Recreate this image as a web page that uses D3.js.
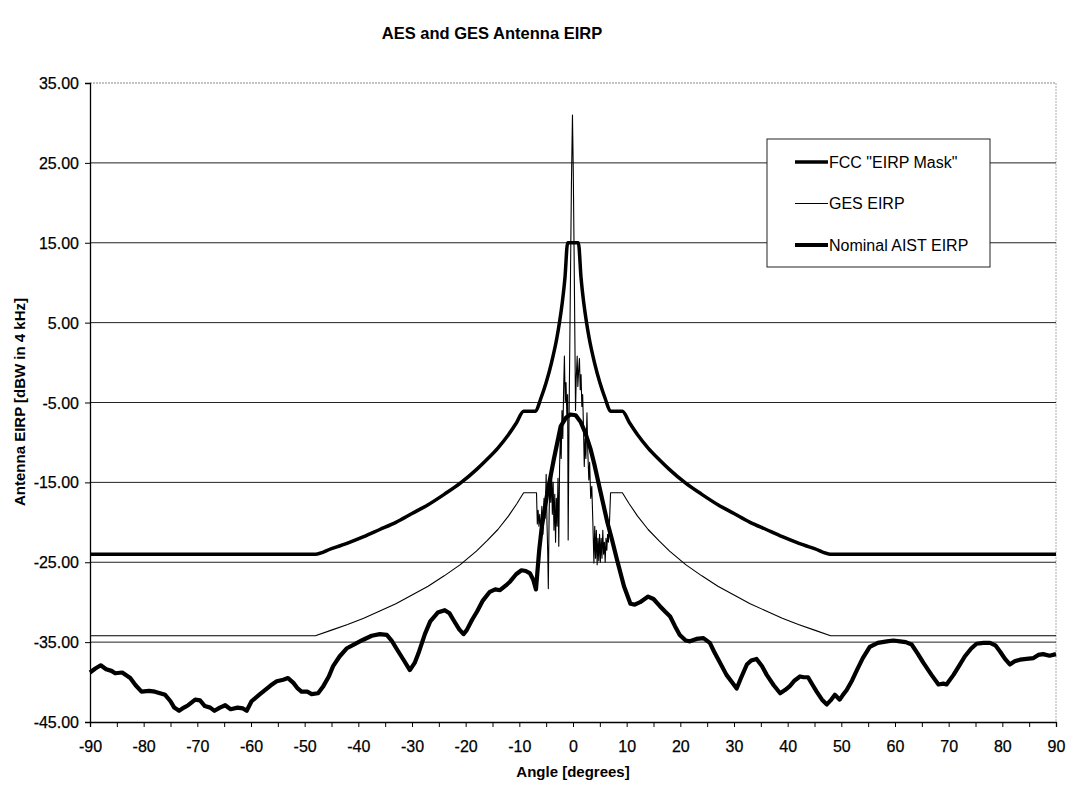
<!DOCTYPE html>
<html><head><meta charset="utf-8">
<script src="https://cdn.jsdelivr.net/npm/d3@7/dist/d3.min.js"></script>
<style>body{margin:0;background:#fff}text{font-family:"Liberation Sans",Arial,sans-serif}</style>
</head><body><svg id="chart" width="1072" height="788"></svg>
<script>
// ---------- data ----------
const chartTitle = "AES and GES Antenna EIRP";
const xTitle = "Angle [degrees]";
const yTitle = "Antenna EIRP [dBW in 4 kHz]";
const xTickLabels = [-90,-80,-70,-60,-50,-40,-30,-20,-10,0,10,20,30,40,50,60,70,80,90];
const xMinorTicks = [-85,-75,-65,-55,-45,-35,-25,-15,-5,5,15,25,35,45,55,65,75,85];
const yTickLabels = [-45,-35,-25,-15,-5,5,15,25,35];
const gridValues = [-35,-25,-15,-5,5,15,25];
const seriesNames = ['FCC "EIRP Mask"', 'GES EIRP', 'Nominal AIST EIRP'];

const maskAngles = [-90,-48,-45,-42,-39,-36,-33,-30,-27,-24,-21,-18,-16,-14,-12,-10.5,-9.2,-7,-6,-5,-4,-3,-2.5,-2,-1.5,-1,
  1,1.5,2,2.5,3,4,5,6,7,9.2,10.5,12,14,16,18,21,24,27,30,33,36,39,42,45,48,90];
const maskValues = [-24.0,-24.0,-23.3,-22.6,-21.8,-20.9,-20.0,-18.9,-17.8,-16.5,-15.1,-13.4,-12.1,-10.7,-9.0,-7.5,-6.1,-6.1,-4.5,-2.5,0.0,3.1,5.1,7.5,10.6,15.0,
  15.0,10.6,7.5,5.1,3.1,0.0,-2.5,-4.5,-6.1,-6.1,-7.5,-9.0,-10.7,-12.1,-13.4,-15.1,-16.5,-17.8,-18.9,-20.0,-20.9,-21.8,-22.6,-23.3,-24.0,-24.0];

const gesAngles = [-90,-48,-45,-42,-39,-36,-33,-30,-27,-24,-21,-18,-16,-14,-12,-10.5,-9.2,
  -6.8,-6.65,-6.5,-6.35,-6.2,-6.0,-5.8,-5.6,-5.4,-5.2,-5.0,-4.85,-4.7,-4.6,-4.45,-4.3,-4.15,-4.0,-3.85,-3.7,-3.55,-3.4,-3.25,-3.1,-2.95,-2.8,-2.65,-2.5,-2.35,-2.2,-2.05,-1.9,-1.75,-1.6,-1.45,-1.3,-1.15,-1.0,-0.9,-0.75,-0.6,-0.45,-0.3,-0.1,
  0.05,0.2,0.35,0.47,0.6,0.78,0.9,1.05,1.2,1.35,1.5,1.65,1.8,1.95,2.1,2.25,2.4,2.6,2.75,2.95,3.1,3.3,3.5,3.7,3.9,4.05,4.2,4.35,4.5,4.65,4.8,4.95,5.1,5.25,5.4,5.55,5.7,5.85,6.0,6.15,6.3,6.45,6.6,6.8,
  7.0,9.2,10.5,12,14,16,18,21,24,27,30,33,36,39,42,45,48,90];
const gesValues = [-34.2,-34.2,-33.5,-32.8,-32.0,-31.1,-30.2,-29.1,-28.0,-26.7,-25.3,-23.6,-22.3,-20.9,-19.2,-17.7,-16.3,
  -16.3,-20.2,-18.5,-20.5,-19.0,-21.0,-18.0,-21.5,-17.0,-19.5,-14.0,-20.0,-24.0,-28.3,-19.0,-14.5,-17.5,-13.5,-19.0,-15.0,-21.0,-16.5,-22.5,-17.0,-20.5,-14.5,-23.0,-13.0,-9.0,-12.0,-6.0,-9.5,-3.5,0.8,-5.0,-2.5,-6.5,-4.0,-22.2,-8.0,2.0,12.0,22.0,31.0,
  24.0,14.0,3.0,-6.0,-2.0,0.8,-3.0,-1.0,0.5,-3.4,-1.5,-5.5,-4.0,-8.0,-13.0,-9.5,-12.0,-6.3,-11.0,-14.7,-12.5,-17.0,-15.5,-20.0,-25.1,-20.5,-24.5,-21.0,-25.3,-22.0,-24.8,-21.5,-25.0,-22.0,-24.5,-21.0,-24.0,-22.5,-25.0,-22.0,-23.5,-21.5,-22.5,-20.0,
  -16.3,-16.3,-17.7,-19.2,-20.9,-22.3,-23.6,-25.3,-26.7,-28.0,-29.1,-30.2,-31.1,-32.0,-32.8,-33.5,-34.2,-34.2];

const aistAngles = [-90,-89,-88,-87,-86,-85.3,-84,-82.5,-81.5,-80.4,-79,-77.9,-76,-75,-74.3,-73.4,-72.5,-71.7,-70.4,-69.5,-68.6,-67.6,-66.8,-65.8,-64.8,-63.8,-62.5,-61.5,-60.8,-59.9,-58.5,-57.4,-56.3,-55.2,-54,-53.1,-52.1,-51.3,-50.6,-49.5,-48.7,-47.5,-46.6,-45.5,-44.7,-43.5,-42.2,-40.5,-39.1,-37.5,-36,-34.7,-33.8,-32.9,-31.5,-30.4,-29.5,-28.8,-27.6,-26.6,-25.2,-23.9,-23,-22.3,-21.2,-20.4,-19.8,-18.8,-17.9,-16.8,-15.5,-14.5,-13.6,-12.5,-11.7,-10.6,-9.6,-8.8,-8.0,-7.4,-6.9,-6.3,-5.8,-4.8,-3.6,-2.3,-1.3,-0.5,
  0.5,1.4,2.3,3.26,4.0,4.8,5.6,6.4,7.2,8.2,9.5,10.7,11.5,12.5,14.0,15.0,16.2,17.2,18.1,19.0,19.9,21.0,21.8,23.0,24.3,25.5,26.3,27.1,28.6,29.6,30.5,31.3,32.4,33.2,34.2,35.2,36.1,37.4,38.6,39.5,40.4,41.3,42.3,43.0,43.8,44.6,45.4,46.4,47.3,48.0,48.8,49.7,50.3,51.0,52.0,52.9,54.0,55.3,56.8,58.5,59.7,60.9,62.0,63.1,64.2,65.3,66.8,68.1,69.0,69.6,70.9,72.0,73.0,74.2,75.2,76.5,77.7,78.7,79.6,80.5,81.4,82.3,83.3,84.5,85.8,86.7,87.6,88.8,90];
const aistValues = [-38.8,-38.3,-37.9,-38.4,-38.6,-38.9,-38.8,-39.5,-40.4,-41.2,-41.1,-41.2,-41.6,-42.4,-43.2,-43.6,-43.2,-42.9,-42.2,-42.3,-43.0,-43.2,-43.6,-43.2,-42.9,-43.4,-43.2,-43.3,-43.6,-42.4,-41.6,-41.0,-40.4,-39.9,-39.7,-39.5,-40.1,-40.8,-41.2,-41.2,-41.5,-41.4,-40.6,-39.3,-38.0,-36.8,-35.8,-35.2,-34.7,-34.2,-34.0,-34.1,-34.8,-35.8,-37.3,-38.5,-37.6,-36.4,-34.0,-32.4,-31.3,-31.0,-31.4,-32.2,-33.4,-34.0,-33.5,-32.2,-31.2,-29.8,-28.7,-28.4,-28.5,-27.9,-27.4,-26.5,-26.0,-26.1,-26.4,-27.2,-28.4,-23.5,-20.5,-16.4,-12.2,-8.0,-6.9,-6.5,
  -6.6,-7.4,-8.8,-10.8,-12.8,-15.2,-17.6,-20.0,-22.0,-24.7,-28.0,-30.2,-30.3,-30.0,-29.3,-29.6,-30.5,-31.2,-31.8,-33.0,-34.1,-34.8,-34.9,-34.6,-34.5,-35.1,-36.2,-37.2,-39.1,-40.0,-40.8,-39.5,-37.8,-37.3,-37.1,-38.0,-39.1,-40.4,-41.4,-41.0,-40.5,-39.8,-39.3,-39.4,-39.4,-40.3,-41.2,-42.2,-42.8,-42.3,-41.6,-42.2,-41.6,-41.0,-39.8,-38.5,-37.0,-35.6,-35.1,-34.9,-34.8,-34.9,-35.0,-35.3,-36.4,-37.6,-39.1,-40.3,-40.2,-40.3,-39.1,-37.9,-36.8,-35.8,-35.2,-35.1,-35.1,-35.4,-36.2,-37.1,-37.8,-37.4,-37.2,-37.1,-37.0,-36.6,-36.5,-36.7,-36.5];

// ---------- drawing ----------
const svg = d3.select("#chart");
const x = d3.scaleLinear().domain([-90, 90]).range([90, 1056]);
const y = d3.scaleLinear().domain([-45, 35]).range([722, 83]);

svg.append("text").attr("x", 492).attr("y", 39).attr("text-anchor", "middle")
  .style("font-size", "16.5px").style("font-weight", "bold").text(chartTitle);

// plot border top/right (dotted gray)
svg.append("line").attr("x1", x(-90)).attr("x2", x(90)).attr("y1", y(35)).attr("y2", y(35))
  .attr("stroke", "#888").attr("stroke-dasharray", "2,1");
svg.append("line").attr("x1", x(90)).attr("x2", x(90)).attr("y1", y(35)).attr("y2", y(-45))
  .attr("stroke", "#aaa").attr("stroke-dasharray", "2,1");

// gridlines
svg.append("g").selectAll("line").data(gridValues).join("line")
  .attr("x1", x(-90)).attr("x2", x(90)).attr("y1", d => y(d)).attr("y2", d => y(d))
  .attr("stroke", "#222").attr("stroke-width", 1);

// axes
const yAxis = svg.append("g").attr("transform", `translate(${x(-90)},0)`)
  .call(d3.axisLeft(y).tickValues(yTickLabels).tickFormat(d => d.toFixed(2)).tickSize(5).tickPadding(6));
const xAxis = svg.append("g").attr("transform", `translate(0,${y(-45)})`)
  .call(d3.axisBottom(x).tickValues(xTickLabels).tickFormat(d => String(d)).tickSize(5).tickPadding(14));
svg.append("g").attr("transform", `translate(0,${y(-45)})`)
  .call(d3.axisBottom(x).tickValues(xMinorTicks).tickFormat("").tickSize(5))
  .select(".domain").remove();
[yAxis, xAxis].forEach(a => {
  a.selectAll("text").style("font-size", "16px").attr("fill", "#000")
    .attr("stroke", "#000").attr("stroke-width", 0.25)
    .style("font-family", '"Liberation Sans",Arial,sans-serif');
  a.select(".domain").attr("stroke", "#000").attr("stroke-width", 1.3);
  a.selectAll(".tick line").attr("stroke", "#000");
});
yAxis.selectAll("text").attr("dy", "0.35em");

svg.append("text").attr("x", 573).attr("y", 777).attr("text-anchor", "middle")
  .style("font-size", "15px").style("font-weight", "bold").text(xTitle);
svg.append("text").attr("transform", "translate(25,402) rotate(-90)").attr("text-anchor", "middle")
  .style("font-size", "15px").style("font-weight", "bold").text(yTitle);

// series
const line = d3.line().x(d => x(d[0])).y(d => y(d[1]));
const zip = (a, b) => a.map((v, i) => [v, b[i]]);
svg.append("path").datum(zip(gesAngles, gesValues)).attr("d", line)
  .attr("fill", "none").attr("stroke", "#000").attr("stroke-width", 1.1).attr("stroke-linejoin", "round");
svg.append("path").datum(zip(maskAngles, maskValues)).attr("d", line.curve(d3.curveMonotoneX))
  .attr("fill", "none").attr("stroke", "#000").attr("stroke-width", 3.5).attr("stroke-linejoin", "round");
svg.append("path").datum(zip(aistAngles, aistValues)).attr("d", line.curve(d3.curveLinear))
  .attr("fill", "none").attr("stroke", "#000").attr("stroke-width", 4.2).attr("stroke-linejoin", "round");

// legend
const lg = svg.append("g").attr("transform", "translate(767,139)");
lg.append("rect").attr("width", 223).attr("height", 128).attr("fill", "#fff")
  .attr("stroke", "#222").attr("stroke-width", 1);
const lw = [3.5, 1.1, 4];
seriesNames.forEach((name, i) => {
  const yy = 23 + i * 41.5;
  lg.append("line").attr("x1", 28).attr("x2", 61).attr("y1", yy).attr("y2", yy)
    .attr("stroke", "#000").attr("stroke-width", lw[i]);
  lg.append("text").attr("x", 62).attr("y", yy).attr("dy", "0.35em")
    .style("font-size", "16px").text(name);
});
</script></body></html>
